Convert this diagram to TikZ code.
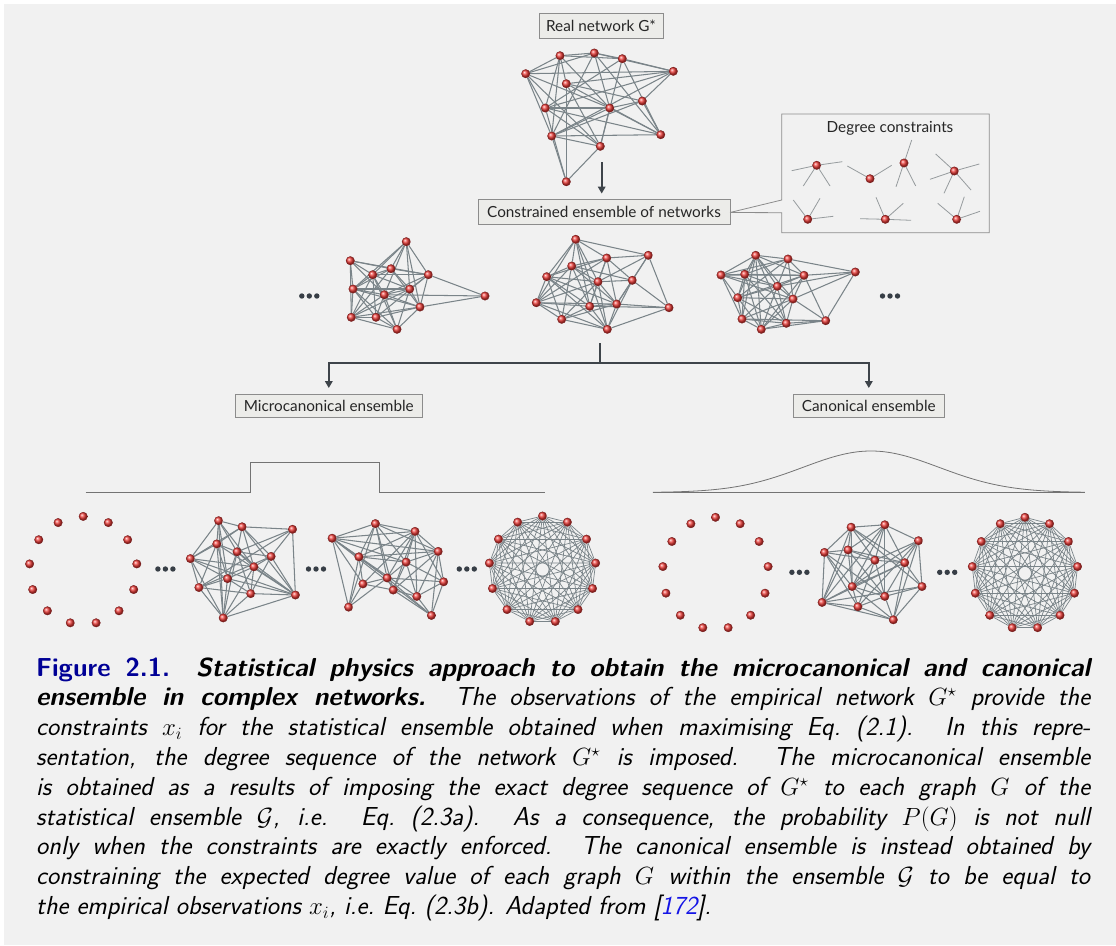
\documentclass[tikz,border=0pt]{standalone}
\usepackage{fontspec}
\usetikzlibrary{arrows.meta,calc}
\newfontfamily\lblfont{Lato}
\definecolor{bggray}{RGB}{241,241,241}
\definecolor{boxfill}{RGB}{236,236,233}
\definecolor{boxline}{RGB}{140,140,140}
\definecolor{edgegray}{RGB}{122,132,137}
\definecolor{spokegray}{RGB}{150,155,158}
\definecolor{arrowdark}{RGB}{62,68,74}
\definecolor{dotdark}{RGB}{55,62,70}
\definecolor{ballred}{RGB}{238,62,58}
\definecolor{ballrim}{RGB}{120,25,25}
\definecolor{figblue}{RGB}{0,0,150}
\definecolor{refblue}{RGB}{20,20,230}
\definecolor{curvegray}{RGB}{115,115,115}
\pgfdeclarelayer{bg}
\pgfdeclarelayer{edges}
\pgfsetlayers{bg,edges,main}
\begin{document}
\begin{tikzpicture}[x=1pt,y=-1pt,
  ball/.style={circle,inner sep=0pt,minimum size=8.5pt,shading=ball,ball color=ballred,draw=ballrim,line width=0.3pt},
  link/.style={draw=edgegray,line width=1.05pt},
  kedge/.style={draw=edgegray,line width=0.7pt},
  spoke/.style={draw=spokegray,line width=0.8pt},
  labelbox/.style={draw=boxline,fill=boxfill,line width=0.8pt,text=black!85,inner sep=0pt,
    font=\lblfont\fontsize{15.3}{17}\selectfont},
  flow/.style={draw=arrowdark,line width=1.8pt,-{Triangle[length=7pt,width=7.5pt]}},
  flowline/.style={draw=arrowdark,line width=1.8pt},
  profile/.style={draw=curvegray,line width=1pt}]

\useasboundingbox (0,0) rectangle (1116,945);
\begin{pgfonlayer}{bg}
  \fill[white] (0,0) rectangle (1116,945);
  \fill[bggray] (4,4) rectangle (1116,945);
\end{pgfonlayer}

% ---------- real network ----------
\node[labelbox,minimum width=124pt,minimum height=25pt] (real) at (601,25.5) {Real network G*};
\foreach \n/\x/\y in {1/525.7/73.7,2/560/55.7,3/594.3/53,4/622.3/58.7,5/673.3/71.3,6/566.3/83.7,
  7/545.3/108,8/609.7/108,9/642.3/101,10/551.7/136,11/660.7/134.7,12/600.3/146.3,13/566.3/181.7}
  \node[ball] (G\n) at (\x,\y) {};
\begin{pgfonlayer}{edges}
\foreach \a/\b in {1/2,1/3,1/5,1/7,1/10,1/12,1/8,2/3,2/4,2/7,2/10,2/8,2/6,3/4,3/5,3/8,3/10,3/11,
  4/5,4/7,4/12,4/11,5/6,5/7,5/10,5/9,6/13,6/12,6/9,6/11,7/8,7/12,7/11,7/13,8/9,8/10,8/12,8/11,
  9/10,9/11,10/11,10/12,10/13,12/13}
  \draw[link] (G\a) -- (G\b);
\end{pgfonlayer}

% ---------- constrained ensemble ----------
\coordinate (gtop) at (601.7,162);
\node[labelbox,minimum width=252pt,minimum height=25pt] (cens) at (604,211.5) {Constrained ensemble of networks};
\draw[flow,shorten >=5pt] (gtop) -- (gtop |- cens.north);

% callout with degree constraints
\coordinate (apex) at (730,212.5);
\draw[boxline,line width=0.8pt] (apex) -- (781.7,200) |- (989.3,114) |- (781.7,232.7) -- (781.7,212.7) -- (apex);
\node[font=\lblfont\fontsize{15.3}{17}\selectfont,text=black!85] (dctitle) at (890,128.3) {Degree constraints};
\foreach \s/\x/\y/\spokes in {
  A/816.7/165.3/{791.7/170.7,842.3/161.7,803.3/186,830/186},
  B/870/178.7/{847.3/166,891.7/165.3},
  C/904/163/{911.7/140,896/186.7,915.7/186},
  D/954.3/171/{935.7/154,979.3/164,930/179.3,944/193.3,971/190},
  E/807.7/219.3/{793.3/200,820/198.3,833.3/216.3},
  F/885.3/219.3/{860/218.7,876/197.3,903.3/203.3,911/220.3},
  H/956.7/219.3/{937.7/203.3,964.3/196.7,980/211.3}}{
  \node[ball] (star\s) at (\x,\y) {};
  \begin{pgfonlayer}{edges}
    \foreach \px/\py in \spokes \draw[spoke] (star\s.center) -- (\px,\py);
  \end{pgfonlayer}
}

% ---------- sampled ensemble ----------
\foreach \n/\x/\y in {1/406.3/241.7,2/350.3/260.7,3/391/268.7,4/372.7/274.7,5/428.3/274.7,6/353/289,
  7/409.7/289,8/384.3/294.7,9/485/296,10/420/307,11/351.3/317.3,12/376/317.3,13/397/329.3}
  \node[ball] (L\n) at (\x,\y) {};
\foreach \n/\x/\y in {1/575.7/239.3,2/606.7/258,3/571.7/266,4/546.7/276.7,5/598/281.7,6/536.3/302.7,
  7/589.7/306.3,8/616.7/304,9/561.7/319.3,10/607.3/329.3,11/648.3/255.3,12/632.3/280.3,13/669/307.7}
  \node[ball] (M\n) at (\x,\y) {};
\foreach \n/\x/\y in {1/755.7/255.3,2/788/259,3/721/275,4/744.7/274.3,5/804/275.3,6/855.3/272,
  7/777.3/286.3,8/737.7/297.7,9/793/299,10/742/319,11/761.3/329.3,12/786.3/323.3,13/825.7/320.7}
  \node[ball] (R\n) at (\x,\y) {};
\begin{pgfonlayer}{edges}
\foreach \a/\b in {1/4,1/6,1/3,1/7,1/5,1/10,1/8,9/5,9/8,9/10,2/4,2/6,2/11,2/3,2/5,2/8,
  3/4,3/5,3/7,3/6,3/10,3/11,4/6,4/7,4/8,4/11,4/12,4/5,4/13,5/7,5/10,5/8,5/12,
  6/7,6/8,6/11,6/12,6/10,6/13,7/8,7/10,7/13,7/11,8/10,8/11,8/12,8/13,10/11,10/12,10/13,
  11/12,11/13,12/13}
  \draw[link] (L\a) -- (L\b);
\foreach \a/\b in {1/2,1/11,1/3,1/4,1/5,1/6,1/7,1/10,2/3,2/4,2/5,2/11,2/12,2/8,2/7,2/6,
  3/4,3/5,3/6,3/7,3/8,3/9,3/12,4/5,4/6,4/9,4/7,4/10,4/8,5/6,5/7,5/8,5/12,5/9,5/10,
  6/9,6/7,6/8,6/10,7/8,7/9,7/10,7/13,8/10,8/12,8/13,8/9,9/10,10/13,10/12,11/12,11/13,11/8,11/5,12/13}
  \draw[link] (M\a) -- (M\b);
\foreach \a/\b in {1/2,1/3,1/4,1/5,1/7,1/8,1/9,1/10,1/11,1/12,2/6,2/4,2/5,2/7,2/9,2/8,2/3,
  3/4,3/8,3/10,3/5,3/7,3/9,4/5,4/7,4/8,4/10,4/12,4/11,5/6,5/7,5/9,5/13,5/8,5/11,
  6/13,6/7,6/9,7/8,7/9,7/10,7/11,7/12,8/9,8/10,8/11,8/12,9/12,9/13,9/11,9/10,
  10/11,10/12,10/13,11/12,12/13,11/13}
  \draw[link] (R\a) -- (R\b);
\end{pgfonlayer}
\foreach \cx/\cy in {309.3/296,890/296}
  \foreach \dx in {-7.5,0,7.5} \fill[dotdark] (\cx+\dx,\cy) circle (2.7pt);

% ---------- split into the two ensembles ----------
\coordinate (forktop) at (600,343.3);
\coordinate (split) at (600,362.7);
\node[labelbox,minimum width=187.7pt,minimum height=23.7pt] (micro) at (328.8,405.8) {Microcanonical ensemble};
\node[labelbox,minimum width=151pt,minimum height=23.7pt] (canon) at (868.8,405.8) {Canonical ensemble};
\draw[flowline] (forktop) -- (split);
\draw[flow,shorten >=5.5pt] (split) -| (micro.north);
\draw[flow,shorten >=5.5pt] (split) -| (canon.north);

% ---------- probability profiles ----------
\draw[profile] (85.7,492) -- (250,492) -- (250,462) -- (379.3,462) -- (379.3,492) -- (544.6,492);
\draw[profile,line width=0.8pt] (652.9,492.5) -- (1084.8,492.5);
\draw[profile,line width=0.8pt] plot[domain=652.9:1084.8,samples=160]
  (\x,{492.5-41.5*exp(-0.5*((\x-871)/68)^2)});

% ---------- microcanonical row ----------
\foreach \k in {0,...,12}
  \node[ball] (EA\k) at ($(83.2,570.4)+({-90+\k*360/13}:54)$) {};
\foreach \n/\x/\y in {1/218.6/520.7,2/242.1/526.8,3/292.5/529.3,4/216.8/543.9,5/237.1/551.8,6/271.1/556.4,
  7/190.4/558.6,8/253.9/566.8,9/227.5/578.6,10/198.9/587.5,11/250.7/593.6,12/295.4/595,13/223.2/617.9}
  \node[ball] (P\n) at (\x,\y) {};
\foreach \n/\x/\y in {1/375.4/523.6,2/415/531.4,3/332.1/538.2,4/438.2/551.4,5/358.9/556.8,6/406.1/562.1,
  7/387.1/577.9,8/443.6/581.8,9/362.9/583.9,10/393.2/590,11/416.8/596.4,12/348.6/607.1,13/431.4/615.4}
  \node[ball] (Q\n) at (\x,\y) {};
\foreach \k in {0,...,12}
  \node[ball] (KA\k) at ($(542.5,569.5)+({-90+\k*360/13}:53.5)$) {};
\begin{pgfonlayer}{edges}
\foreach \a/\b in {1/2,1/7,1/4,1/5,1/9,1/13,1/8,2/3,2/4,2/5,2/7,2/8,2/6,2/12,3/5,3/6,3/12,3/10,
  4/5,4/7,4/9,4/10,4/13,4/12,5/6,5/8,5/9,5/11,5/12,5/13,6/8,6/10,6/12,6/11,7/8,7/9,7/10,7/13,7/12,
  8/9,8/11,8/12,8/13,9/10,9/11,9/13,9/12,10/11,10/13,11/12,11/13,12/13}
  \draw[link] (P\a) -- (P\b);
\foreach \a/\b in {1/2,1/3,1/5,1/7,1/6,1/4,1/10,1/12,2/3,2/4,2/5,2/6,2/7,2/8,2/10,2/11,2/9,
  3/4,3/5,3/9,3/12,3/7,3/6,3/11,3/13,4/5,4/6,4/8,4/10,4/11,4/13,5/6,5/7,5/12,5/9,
  6/7,6/8,6/11,6/10,7/8,7/9,7/10,7/13,7/12,8/11,8/13,9/10,9/12,10/11,10/13,11/13}
  \draw[link] (Q\a) -- (Q\b);
\foreach \i in {0,...,11}{
  \pgfmathtruncatemacro\nxt{\i+1}
  \foreach \j in {\nxt,...,12} \draw[kedge] (KA\i) -- (KA\j);
}
\end{pgfonlayer}
\foreach \cx/\cy in {165.4/569,316/569,466.8/569}
  \foreach \dx in {-7.5,0,7.5} \fill[dotdark] (\cx+\dx,\cy) circle (2.7pt);

% ---------- canonical row ----------
\foreach \k in {0,...,12}
  \node[ball] (EB\k) at ($(715.5,573.3)+({-90+\k*360/13}:53 and 56)$) {};
\foreach \n/\x/\y in {1/851.1/527.2,2/884.8/524.8,3/918.5/540.7,4/824.5/552.4,5/848/549.9,6/874.9/560.2,
  7/904.7/562.7,8/852.2/586.5,9/884.8/596.4,10/922/586.5,11/822.1/602.4,12/857.9/606.7,13/893.3/619.8}
  \node[ball] (C\n) at (\x,\y) {};
\foreach \k in {0,...,12}
  \node[ball] (KB\k) at ($(1024.9,573.3)+({-90+\k*360/13}:53 and 56)$) {};
\begin{pgfonlayer}{edges}
\foreach \a/\b in {1/2,1/4,1/5,1/6,1/7,1/8,1/11,1/10,2/3,2/5,2/6,2/7,2/8,2/9,2/11,
  3/7,3/6,3/10,3/13,3/12,3/8,4/5,4/11,4/8,4/12,4/9,4/6,5/6,5/8,5/9,5/11,5/7,
  6/7,6/9,6/12,6/8,7/8,7/10,7/11,7/13,7/9,8/11,8/12,8/9,8/13,9/10,9/12,9/13,
  10/13,10/11,11/12,11/13,12/13}
  \draw[link] (C\a) -- (C\b);
\foreach \i in {0,...,11}{
  \pgfmathtruncatemacro\nxt{\i+1}
  \foreach \j in {\nxt,...,12} \draw[kedge] (KB\i) -- (KB\j);
}
\end{pgfonlayer}
\foreach \cx/\cy in {799.4/572.3,947.2/572.3}
  \foreach \dx in {-7.5,0,7.5} \fill[dotdark] (\cx+\dx,\cy) circle (2.7pt);

% ---------- caption ----------
\node[anchor=base west,inner sep=0pt,text width=1054pt,align=justify,
  font=\sffamily\itshape\fontsize{26}{29.8}\selectfont] (caption) at (36,676) {%
\textcolor{figblue}{\bfseries\upshape Figure 2.1.}\quad
{\bfseries Statistical physics approach to obtain the microcanonical and canonical\linebreak
ensemble in complex networks.} The observations of the empirical network $G^\star$ provide the\linebreak
constraints $x_i$ for the statistical ensemble obtained when maximising Eq.~(2.1). In this repre-\linebreak
sentation, the degree sequence of the network $G^\star$ is imposed. The microcanonical ensemble\linebreak
is obtained as a results of imposing the exact degree sequence of $G^\star$ to each graph $G$ of the\linebreak
statistical ensemble $\mathcal{G}$, i.e. Eq.~(2.3a). As a consequence, the probability $P(G)$ is not null\linebreak
only when the constraints are exactly enforced. The canonical ensemble is instead obtained by\linebreak
constraining the expected degree value of each graph $G$ within the ensemble $\mathcal{G}$ to be equal to\linebreak
the empirical observations $x_i$, i.e.\ Eq.~(2.3b). Adapted from [\textcolor{refblue}{172}].};
\end{tikzpicture}
\end{document}
